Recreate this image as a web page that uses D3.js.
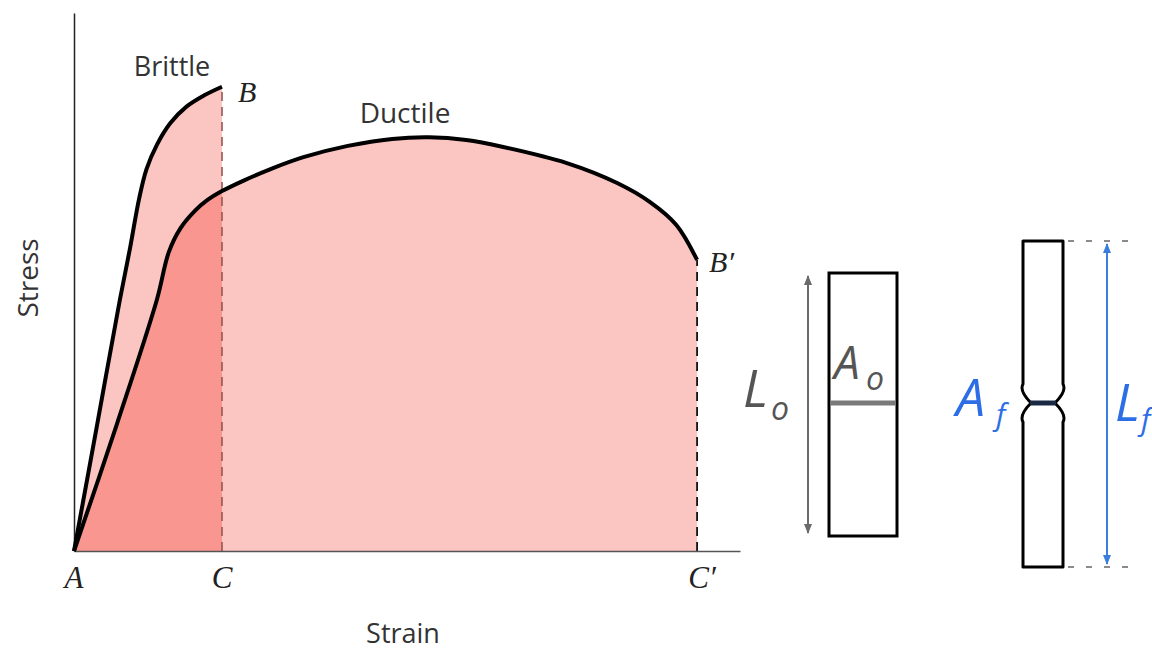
<!DOCTYPE html>
<html><head><meta charset="utf-8">
<script src="https://cdn.jsdelivr.net/npm/d3@7"></script>
<style>html,body{margin:0;padding:0;background:#fff;}svg{display:block;}</style>
</head><body>
<svg id="c" width="1152" height="651"></svg>
<script>
// ---- data (strain, stress) in arbitrary units ----
const brittle = [[0,0],[1.5,22.5],[3.1,46.7],[3.8,56.5],[4.4,65.5],[4.9,71.0],[5.6,75.5],[6.5,79.5],[7.6,82.6],[8.8,84.7],[10.0,86.3]];
const ductile = [[0,0],[2.9,23.6],[5.6,46.7],[6.4,55.5],[7.2,60.0],[8.2,63.3],[9.0,65.2],[10.0,66.9],[11.5,68.9],[13.2,70.9],[15.5,73.2],[18.5,75.3],[21.5,76.6],[24.0,76.9],[26.5,76.4],[29.0,75.1],[33.3,72.1],[36.7,68.4],[38.9,64.9],[40.7,60.6],[42.1,54.1]];
const strainMarks = ["A","C","C′"];
const strainMarkValues = [0, 10, 42.1];
const curveLabels = ["Brittle","Ductile"];
const endLabels = ["B","B′"];
const axisTitles = ["Strain","Stress"];

const svg = d3.select("#c");
const x = d3.scaleLinear().domain([0,45]).range([74,740]);
const y = d3.scaleLinear().domain([0,100]).range([551,13]);

const curve = d3.curveCatmullRom.alpha(0.5);
const area = d3.area().x(d=>x(d[0])).y0(y(0)).y1(d=>y(d[1])).curve(curve);
const line = d3.line().x(d=>x(d[0])).y(d=>y(d[1])).curve(curve);

const light = "#fbc5c1", dark = "#f8968f";
const C = strainMarkValues[1];

svg.append("path").attr("d", area(ductile)).attr("fill", light);
svg.append("path").attr("d", area(brittle)).attr("fill", light);
svg.append("path").attr("d", area(ductile.filter(d=>d[0]<=C))).attr("fill", dark);

// dashed verticals
const bEnd = brittle[brittle.length-1], dEnd = ductile[ductile.length-1];
svg.append("line").attr("x1",x(bEnd[0])).attr("x2",x(bEnd[0])).attr("y1",y(0)).attr("y2",y(bEnd[1]))
  .attr("stroke","#9a5552").attr("stroke-width",1.6).attr("stroke-dasharray","9,6");
svg.append("line").attr("x1",x(dEnd[0])).attr("x2",x(dEnd[0])).attr("y1",y(0)).attr("y2",y(dEnd[1]))
  .attr("stroke","#111").attr("stroke-width",1.8).attr("stroke-dasharray","9,6");

// axes (no ticks)
const xa = svg.append("g").attr("transform",`translate(0,${y(0)})`).call(d3.axisBottom(x).tickValues([]).tickSizeOuter(0));
xa.select(".domain").attr("stroke","#555").attr("stroke-width",1.5);
const ya = svg.append("g").attr("transform",`translate(${x(0)},0)`).call(d3.axisLeft(y).tickValues([]).tickSizeOuter(0));
ya.select(".domain").attr("stroke","#222").attr("stroke-width",1.5);

// curves
svg.append("path").attr("d", line(brittle)).attr("fill","none").attr("stroke","#000").attr("stroke-width",4).attr("stroke-linejoin","round");
svg.append("path").attr("d", line(ductile)).attr("fill","none").attr("stroke","#000").attr("stroke-width",4).attr("stroke-linejoin","round");

// labels
const sans = "'Open Sans', 'DejaVu Sans', sans-serif";
const serif = "'Liberation Serif', 'DejaVu Serif', serif";
svg.append("text").text(curveLabels[0]).attr("x",172).attr("y",76).attr("text-anchor","middle")
  .attr("font-family",sans).attr("font-size",27).attr("fill","#333");
svg.append("text").text(curveLabels[1]).attr("x",405).attr("y",123).attr("text-anchor","middle")
  .attr("font-family",sans).attr("font-size",28).attr("fill","#333");
svg.append("text").text(axisTitles[0]).attr("x",403).attr("y",643).attr("text-anchor","middle")
  .attr("font-family",sans).attr("font-size",27).attr("fill","#333");
svg.append("text").text(axisTitles[1]).attr("transform","translate(38,278) rotate(-90)").attr("text-anchor","middle")
  .attr("font-family",sans).attr("font-size",28).attr("fill","#333");

svg.selectAll("text.sm").data(strainMarks).enter().append("text").attr("class","sm")
  .text(d=>d).attr("x",(d,i)=>x(strainMarkValues[i]) + (i===2?5:0)).attr("y",588).attr("text-anchor","middle")
  .attr("font-family",serif).attr("font-style","italic").attr("font-size",31).attr("fill","#222");
svg.append("text").text(endLabels[0]).attr("x",x(bEnd[0])+16).attr("y",y(bEnd[1])+15)
  .attr("font-family",serif).attr("font-style","italic").attr("font-size",30).attr("fill","#222");
svg.append("text").text(endLabels[1]).attr("x",x(dEnd[0])+12).attr("y",y(dEnd[1])+12)
  .attr("font-family",serif).attr("font-style","italic").attr("font-size",30).attr("fill","#222");

// ---- specimen illustrations ----
const defs = svg.append("defs");
function marker(id, color){
  defs.append("marker").attr("id",id).attr("viewBox","0 0 10 10").attr("refX",9).attr("refY",5)
    .attr("markerWidth",5).attr("markerHeight",6).attr("orient","auto-start-reverse")
    .append("path").attr("d","M0,1 L10,5 L0,9 Z").attr("fill",color);
}
marker("ag","#6a6a6a"); marker("ab","#3b7ddd");

// original specimen
svg.append("line").attr("x1",808).attr("x2",808).attr("y1",276).attr("y2",533)
  .attr("stroke","#6a6a6a").attr("stroke-width",2).attr("marker-start","url(#ag)").attr("marker-end","url(#ag)");
svg.append("rect").attr("x",829).attr("y",273).attr("width",68).attr("height",263)
  .attr("fill","#fff").attr("stroke","#000").attr("stroke-width",3);
svg.append("line").attr("x1",830).attr("x2",896).attr("y1",403).attr("y2",403).attr("stroke","#7a7a7a").attr("stroke-width",5);
const lo = svg.append("g").attr("font-family",sans).attr("font-style","italic").attr("fill","#555");
lo.append("text").text("L").attr("x",743).attr("y",407).attr("font-size",52);
lo.append("text").text("o").attr("x",771).attr("y",420).attr("font-size",32);
lo.append("text").text("A").attr("x",834).attr("y",379).attr("font-size",46);
lo.append("text").text("o").attr("x",866).attr("y",390).attr("font-size",32);

// fractured specimen
const necked = "M1023,241 L1023,384 Q1019,391 1031,403 Q1019,415 1023,422 L1023,567 L1063,567 L1063,422 Q1067,415 1055,403 Q1067,391 1063,384 L1063,241 Z";
svg.append("path").attr("d",necked).attr("fill","#fff").attr("stroke","#000").attr("stroke-width",3).attr("stroke-linejoin","round");
svg.append("line").attr("x1",1030).attr("x2",1056).attr("y1",403).attr("y2",403).attr("stroke","#1b2a44").attr("stroke-width",5);
[241,567].forEach(yy=>{
  svg.append("line").attr("x1",1068).attr("x2",1128).attr("y1",yy).attr("y2",yy)
    .attr("stroke","#666").attr("stroke-width",1.5).attr("stroke-dasharray","6,12");
});
svg.append("line").attr("x1",1107).attr("x2",1107).attr("y1",244).attr("y2",564)
  .attr("stroke","#3b7ddd").attr("stroke-width",2).attr("marker-start","url(#ab)").attr("marker-end","url(#ab)");
const lf = svg.append("g").attr("font-family",sans).attr("font-style","italic").attr("fill","#2d6ee6");
lf.append("text").text("A").attr("x",956).attr("y",416).attr("font-size",52);
lf.append("text").text("f").attr("x",996).attr("y",425).attr("font-size",30);
lf.append("text").text("L").attr("x",1115).attr("y",421).attr("font-size",52);
lf.append("text").text("f").attr("x",1141).attr("y",430).attr("font-size",30);
</script>
</body></html>
